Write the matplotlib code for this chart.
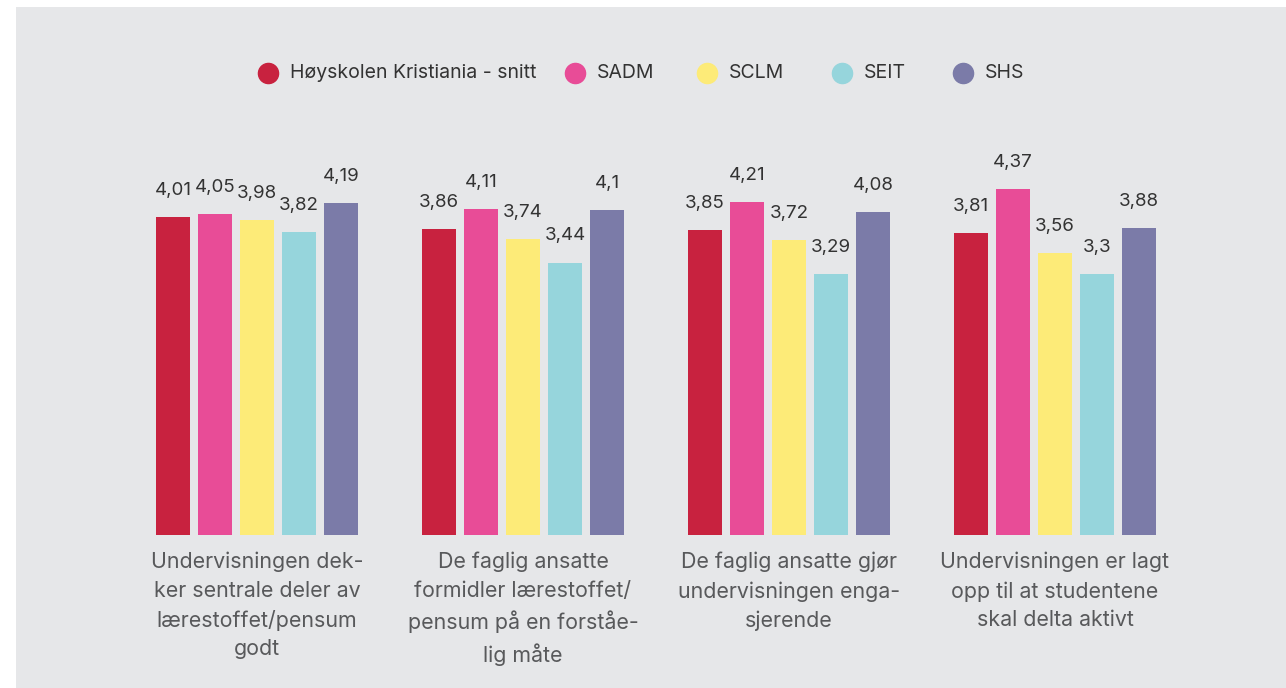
import numpy as np
import matplotlib.pyplot as plt
from matplotlib.patches import Rectangle
from matplotlib.lines import Line2D
from matplotlib.transforms import blended_transform_factory

plt.rcParams['font.family'] = ['Inter', 'DejaVu Sans']

categories = [
    "Undervisningen dek-\nker sentrale deler av\nlærestoffet/pensum\ngodt",
    "De faglig ansatte\nformidler lærestoffet/\npensum på en forståe-\nlig måte",
    "De faglig ansatte gjør\nundervisningen enga-\nsjerende",
    "Undervisningen er lagt\nopp til at studentene\nskal delta aktivt",
]
series = ["Høyskolen Kristiania - snitt", "SADM", "SCLM", "SEIT", "SHS"]
values = [
    [4.01, 3.86, 3.85, 3.81],
    [4.05, 4.11, 4.21, 4.37],
    [3.98, 3.74, 3.72, 3.56],
    [3.82, 3.44, 3.29, 3.30],
    [4.19, 4.10, 4.08, 3.88],
]
colors = ["#C8223F", "#E84C97", "#FDEB78", "#96D5DC", "#7B7BA8"]

W, H = 1286, 688
fig = plt.figure(figsize=(W / 100, H / 100), dpi=100)
fig.patch.set_facecolor("white")
fig.patches.append(Rectangle((16 / W, 0), 1 - 16 / W, (H - 7) / H,
                             transform=fig.transFigure, facecolor="#E6E7E9",
                             edgecolor="none", zorder=-5))

ax = fig.add_axes([124 / W, 153 / H, 1064 / W, 396 / H])
ax.set_facecolor("none")
ax.set_zorder(2)

x = np.arange(len(categories))
step = 0.158
width = 0.128
for i, (name, vals, c) in enumerate(zip(series, values, colors)):
    pos = x + (i - 2) * step
    bars = ax.bar(pos, vals, width=width, color=c, label=name)
    for b, v in zip(bars, vals):
        ax.annotate(f"{v:g}".replace(".", ","), (b.get_x() + b.get_width() / 2, v),
                    xytext=(0, 13), textcoords="offset points", ha="center", va="bottom",
                    fontsize=13.5, color="#333333")

ax.set_xlim(-0.5, 3.5)
ax.set_ylim(0, 5)
ax.set_yticks([])
ax.set_xticks([])
for s in ax.spines.values():
    s.set_visible(False)

# category labels under each group
trans = blended_transform_factory(ax.transData, ax.transAxes)
for xi, lab in zip(x, categories):
    ax.text(xi, -17 / 396, lab, transform=trans, ha="center", va="top",
            fontsize=15.4, color="#58595B", linespacing=1.52, multialignment="center")

# legend, laid out by hand
leg_x = [268, 575, 707, 842, 963]
leg_y = 1 - 72.5 / H
for lx, name, c in zip(leg_x, series, colors):
    fig.add_artist(Line2D([lx / W], [leg_y], marker="o", markersize=14.5, color=c,
                          linestyle="none", transform=fig.transFigure))
    fig.text((lx + 22) / W, leg_y, name, fontsize=14, color="#333333",
             ha="left", va="center")

fig.savefig("out.png", dpi=100)
